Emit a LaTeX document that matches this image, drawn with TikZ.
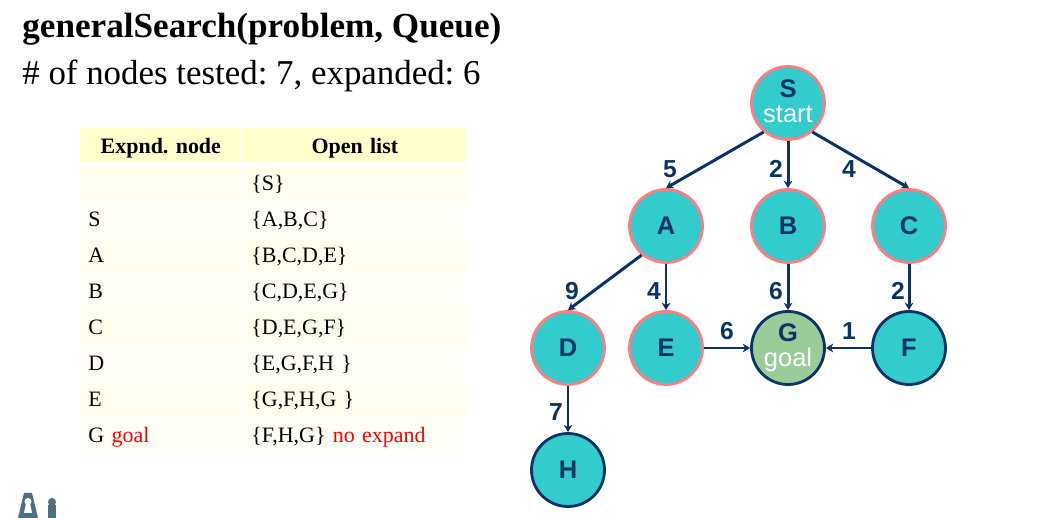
\documentclass[tikz,border=0pt]{standalone}
\usepackage{fontspec}
\setmainfont{Liberation Serif}
\newfontfamily\graphfont{Liberation Sans}
\usetikzlibrary{positioning,arrows.meta}
\frenchspacing

\definecolor{tealfill}{HTML}{33CCCC}
\definecolor{goalfill}{HTML}{99CC99}
\definecolor{salmon}{HTML}{FF7C80}
\definecolor{navy}{HTML}{0B3366}
\definecolor{headfill}{HTML}{FFFFCC}
\definecolor{rowdark}{HTML}{FFFFEE}
\definecolor{rowpale}{HTML}{FFFFF7}
\definecolor{logoblue}{HTML}{4F6E7E}

\tikzset{
  state/.style={circle, draw=salmon, fill=tealfill, line width=1.6pt, minimum size=1.46cm, inner sep=0pt,
    text=navy, align=center, font=\graphfont\fontsize{14.5}{14}\selectfont\bfseries},
  closed/.style={state, draw=navy},
  cost/.style={text=navy, inner sep=0pt, font=\graphfont\fontsize{14}{14}\selectfont\bfseries},
  edge/.style={-{Stealth[length=4.2pt,width=5pt]}, draw=navy, line width=1.7pt},
  cell/.style={anchor=north west, inner xsep=.16cm, inner ysep=0pt, minimum height=.67cm, text height=.43cm, text depth=.08cm,
    align=left, font=\fontsize{12.5}{14}\selectfont},
  expcell/.style={cell, text width=2.9cm},
  opencell/.style={cell, text width=4.14cm}
}
\newcommand{\subtext}[1]{\\[.3pt]{\color{white}\mdseries #1}\rule[-2.3pt]{0pt}{0pt}}

\begin{document}
\begin{tikzpicture}
  \useasboundingbox (0,0) rectangle (20.92,10.36);

  % Title lines
  \node (title) [anchor=base west, inner sep=0pt, font=\fontsize{20}{22}\selectfont\bfseries] at (.44,9.60) {generalSearch(problem, Queue)};
  \node (count) [anchor=base west, inner sep=0pt, font=\fontsize{19.85}{22}\selectfont] at (.44,8.66) {\# of nodes tested: 7, expanded: 6};

  % Table header
  \node (headexp) [expcell, fill=headfill, align=center, font=\fontsize{12.5}{14}\selectfont\bfseries] at (1.6,7.8) {Expnd. node};
  \node (headopen) [opencell, fill=headfill, align=center, font=\fontsize{12.5}{14}\selectfont\bfseries] at (4.86,7.8) {Open list};

  % Table rows
  \foreach \row/\rowy/\rowfill/\expd/\open in {
    0/7.06/rowdark/{}/{\{S\}},
    1/6.34/rowpale/S/{\{A,B,C\}},
    2/5.62/rowdark/A/{\{B,C,D,E\}},
    3/4.90/rowpale/B/{\{C,D,E,G\}},
    4/4.18/rowdark/C/{\{D,E,G,F\}},
    5/3.46/rowpale/D/{\{E,G,F,H \}},
    6/2.74/rowdark/E/{\{G,F,H,G \}},
    7/2.02/rowpale/{G \textcolor{red}{goal}}/{\{F,H,G\} \textcolor{red}{no expand}}} {
    \node (exp\row) [expcell, fill=\rowfill] at (1.6,\rowy) {\expd};
    \node (open\row) [opencell, fill=\rowfill] at (4.86,\rowy) {\open};
  }

  % Search tree nodes
  \node (S) [state] at (15.76,8.30) {S\subtext{start}};
  \node (A) [state] at (13.32,5.84) {A};
  \node (B) [state] at (15.76,5.84) {B};
  \node (C) [state] at (18.18,5.84) {C};
  \node (D) [state] at (11.36,3.40) {D};
  \node (E) [state] at (13.32,3.40) {E};
  \node (G) [closed, fill=goalfill] at (15.76,3.40) {G\subtext{goal}};
  \node (F) [closed] at (18.18,3.40) {F};
  \node (H) [closed] at (11.36,0.96) {H};

  % Edges
  \draw[edge] (S.230) -- (A.north);
  \draw[edge] (S) -- (B);
  \draw[edge] (S.-50) -- (C.north);
  \draw[edge] (A.230) -- (D.north);
  \draw[edge] (A) -- (E);
  \draw[edge] (B) -- (G);
  \draw[edge] (C) -- (F);
  \draw[edge] (E) -- (G);
  \draw[edge] (F) -- (G);
  \draw[edge] (D) -- (H);

  % Edge costs
  \node (costSA) [cost] at (13.40,6.98) {5};
  \node (costSB) [cost] at (15.52,6.98) {2};
  \node (costSC) [cost] at (16.98,6.98) {4};
  \node (costAD) [cost] at (11.44,4.54) {9};
  \node (costAE) [cost] at (13.08,4.54) {4};
  \node (costBG) [cost] at (15.52,4.54) {6};
  \node (costCF) [cost] at (17.96,4.54) {2};
  \node (costEG) [cost] at (14.54,3.74) {6};
  \node (costFG) [cost] at (16.98,3.74) {1};
  \node (costDH) [cost] at (11.12,2.12) {7};

  % Logo in the corner
  \fill[logoblue] (.36,0) -- (.48,.5) -- (.64,.5) -- (.76,0) -- cycle;
  \fill[white] (.48,.1) -- (.52,.3) -- (.6,.3) -- (.64,.1) -- cycle;
  \fill[white] (.56,.33) circle (.07);
  \fill[logoblue] (.96,0) rectangle (1.12,.26);
  \fill[logoblue] (1.04,.32) circle (.08);
\end{tikzpicture}
\end{document}
